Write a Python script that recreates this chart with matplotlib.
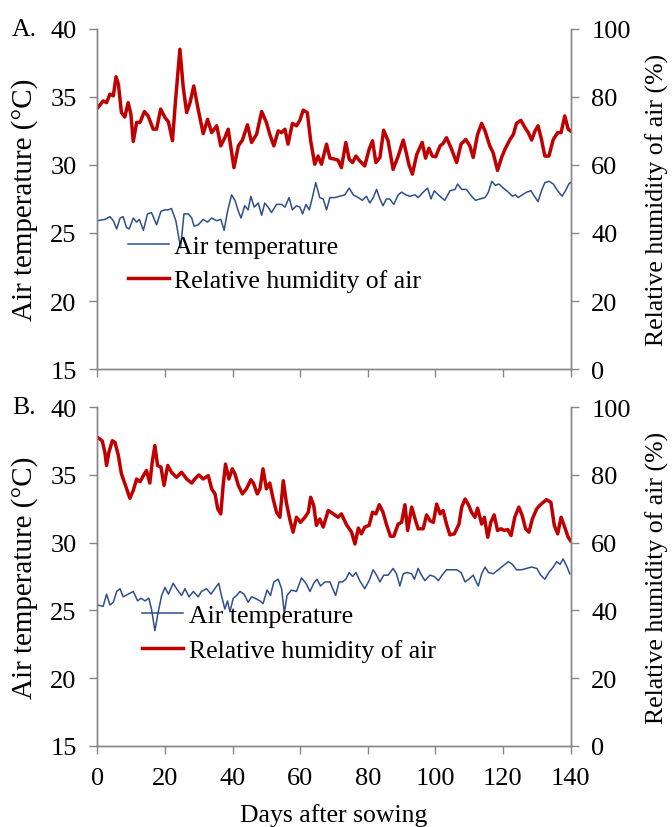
import numpy as np
import matplotlib
matplotlib.use("Agg")
import matplotlib.pyplot as plt

plt.rcParams['font.family'] = ['Liberation Serif', 'DejaVu Serif']
plt.rcParams['font.size'] = 18.5

# ---- panel A data ----
a_temp_day = [0, 2.2, 3.7, 4.7, 5.7, 6.7, 7.6, 8.6, 9.4, 10.6, 11.6, 12.4, 13.6, 14.8, 16, 17.5, 18.8, 20, 21, 21.9,
              23.2, 24.6, 25.6, 26.9, 27.9, 28.6, 29.8, 31.3, 32.6, 33.8, 35.3, 36.5, 37.5, 38.5, 39.7, 40.7, 41.7,
              42.5, 43.6, 44.6, 45.4, 46.4, 47.6, 48.6, 49.5, 50.5, 51.5, 53, 54.5, 55.5, 56.7, 57.7, 58.9, 59.9,
              60.7, 61.7, 62.7, 63.6, 64.6, 65.8, 66.8, 67.8, 68.8, 70.2, 71.7, 73.2, 74.5, 75.7, 77.2, 78.4, 79.6,
              80.6, 81.6, 82.6, 83.6, 84.5, 85.5, 86.5, 87.7, 89, 90, 91.3, 92.4, 94, 94.9, 96.4, 97.7, 98.7, 99.7,
              100.9, 101.8, 102.8, 104.3, 105.8, 106.6, 107.8, 109.2, 110.7, 111.9, 113.2, 114.7, 115.7, 116.7,
              117.8, 118.8, 120.1, 121.6, 122.8, 123.7, 124.5, 125.7, 127, 128.3, 129.3, 130.4, 131.4, 132.4, 133.6,
              134.9, 136.2, 137.5, 138.5, 139.5, 140]
a_temp = [25.9, 26.0, 26.2, 25.9, 25.3, 26.1, 26.2, 25.4, 25.3, 26.1, 25.8, 26.0, 25.2, 26.4, 26.5, 25.6, 26.6, 26.7,
          26.7, 26.8, 25.9, 23.9, 26.4, 26.4, 26.1, 25.5, 25.6, 26.0, 25.8, 26.1, 25.9, 26.0, 25.2, 26.6, 27.8, 27.4,
          26.6, 26.1, 27.0, 26.7, 27.7, 26.9, 27.2, 26.3, 27.2, 26.9, 26.5, 27.1, 27.1, 26.9, 27.6, 26.7, 27.0, 26.9,
          26.4, 27.1, 26.7, 27.6, 28.7, 27.6, 27.5, 26.7, 27.6, 27.6, 27.7, 27.8, 28.3, 27.8, 27.6, 27.4, 27.7, 27.2,
          27.6, 28.2, 27.5, 27.0, 27.5, 27.5, 27.1, 27.8, 28.0, 27.8, 27.7, 27.8, 27.6, 28.0, 28.3, 27.5, 28.1, 27.8,
          27.6, 27.4, 28.1, 28.2, 28.6, 28.2, 28.2, 27.7, 27.4, 27.5, 27.6, 28.0, 28.8, 28.5, 28.6, 28.3, 28.0, 27.7,
          27.8, 27.6, 27.8, 28.0, 28.1, 27.7, 27.3, 28.1, 28.7, 28.8, 28.6, 28.1, 27.7, 28.1, 28.6, 28.7]

a_rh_day = [0, 1.7, 2.7, 3.7, 4.7, 5.5, 6.2, 7.1, 8.1, 9.1, 9.9, 10.6, 11.6, 12.6, 13.9, 15, 16.5, 17.5, 18.7, 20,
            21, 22.2, 23.1, 24.4, 25.4, 26.4, 27.4, 28.5, 29.8, 31.3, 32.6, 33.8, 35.3, 36.5, 37.7, 38.7, 39.5,
            40.4, 41.7, 42.9, 44.4, 45.6, 47.1, 48.6, 50, 51, 52.2, 53.5, 54.5, 55.5, 56.4, 57.7, 58.9, 59.9, 60.9,
            62.1, 63.1, 64.3, 65.3, 66.3, 67.8, 68.8, 70.2, 71.2, 72.2, 73.5, 74.5, 75.5, 76.5, 77.6, 79.1, 80.4,
            81.4, 82.4, 83.6, 84.7, 86, 87.5, 89, 90.5, 91.5, 92.2, 93.2, 94.5, 96.1, 97.1, 98.1, 99.1, 100.1,
            101.4, 102.3, 103.3, 104.6, 106.3, 107.6, 109, 110.2, 111.2, 112.5, 113.7, 114.7, 116.1, 117.1, 118.4,
            119.6, 120.6, 122.1, 123.1, 124, 125.3, 126.5, 127.5, 128.5, 129.5, 130.4, 131.4, 132.4, 133.6, 134.9,
            136.2, 137.2, 138.3, 139.3, 140]
a_rh = [76.7, 78.8, 78.3, 80.8, 80.3, 85.9, 83.7, 75.4, 74.1, 78.3, 74.9, 66.9, 72.5, 72.5, 75.7, 74.4, 70.5, 70.5,
        76.4, 73.9, 72.7, 67.1, 78.8, 94.0, 82.7, 75.4, 78.3, 83.2, 76.4, 69.2, 73.4, 69.5, 71.5, 65.6, 68.0, 70.5,
        65.1, 59.2, 65.6, 67.3, 71.8, 66.6, 69.0, 75.7, 72.5, 69.0, 65.6, 70.0, 69.5, 70.5, 66.1, 72.2, 71.5, 73.1,
        76.1, 75.4, 67.1, 60.2, 62.6, 60.2, 66.1, 62.0, 61.7, 61.4, 59.2, 66.6, 61.7, 60.7, 62.6, 61.2, 59.7, 64.6,
        67.1, 60.7, 62.2, 70.2, 67.1, 58.7, 62.6, 67.3, 63.1, 60.0, 57.3, 63.1, 66.6, 62.0, 64.9, 62.6, 62.4, 65.6,
        66.3, 68.0, 65.1, 60.7, 66.1, 67.5, 65.6, 62.2, 69.0, 72.2, 70.0, 65.6, 63.6, 58.4, 62.2, 64.6, 67.5, 69.0,
        72.2, 73.1, 71.0, 69.5, 67.3, 70.0, 71.5, 67.5, 62.6, 62.6, 67.5, 69.5, 69.5, 74.4, 70.5, 70.0]

# ---- panel B data ----
b_temp_day = [0, 1.7, 2.7, 3.7, 4.7, 5.7, 6.7, 7.6, 9.1, 10.6, 11.9, 12.9, 14.1, 15.2, 16, 17, 18, 19, 20, 21, 22.4,
              23.7, 24.9, 25.9, 27.1, 28.4, 29.8, 30.8, 32.3, 33.6, 35, 35.9, 36.7, 37.7, 38.5, 39.2, 40.2, 41.2,
              42.2, 43.4, 44.6, 45.6, 46.6, 48.1, 49, 50.2, 51.2, 52.2, 53.5, 54.5, 55.3, 56.1, 57.4, 58.9, 60.4,
              61.7, 62.9, 64, 65, 66, 67.3, 68.8, 69.8, 70.5, 71.5, 72.5, 73.5, 74.5, 75.5, 76.5, 77.6, 79.1, 80.4,
              81.6, 82.6, 83.6, 84.7, 86, 87.5, 88.5, 89.5, 90.5, 91.6, 93, 93.8, 94.9, 95.9, 96.9, 98.4, 99.7,
              100.9, 102, 103.3, 104.8, 106.3, 107.6, 108.8, 109.9, 111.2, 111.9, 112.7, 113.7, 114.7, 115.7, 117.1,
              118.6, 120.1, 121.6, 122.8, 124, 125.5, 127, 128.5, 130, 131.2, 132.4, 133.6, 134.9, 135.9, 136.9,
              137.8, 138.8, 139.8]
b_temp = [25.4, 25.3, 26.2, 25.4, 25.6, 26.4, 26.6, 26.0, 26.2, 26.4, 25.7, 25.9, 25.7, 25.9, 25.1, 23.5, 24.9, 26.1,
          26.7, 26.2, 27.0, 26.5, 26.1, 26.6, 26.0, 26.4, 26.0, 26.4, 26.6, 26.2, 26.7, 27.0, 26.1, 25.1, 25.7, 24.9,
          25.9, 26.1, 26.4, 26.2, 25.6, 26.0, 25.9, 25.7, 25.5, 26.5, 26.1, 27.1, 27.3, 26.6, 24.8, 26.1, 26.5, 26.4,
          27.4, 27.0, 26.4, 27.0, 27.3, 26.8, 27.1, 27.1, 26.5, 26.1, 27.1, 27.1, 27.3, 27.8, 27.5, 27.8, 27.2, 26.6,
          27.2, 28.0, 27.6, 27.1, 27.6, 27.6, 28.1, 27.7, 26.8, 27.7, 27.8, 27.7, 27.3, 28.1, 27.6, 27.2, 27.6, 27.5,
          27.2, 27.6, 28.0, 28.0, 28.0, 27.8, 27.1, 27.3, 27.6, 27.2, 26.8, 27.7, 28.2, 27.8, 27.7, 28.0, 28.3, 28.6,
          28.4, 28.0, 28.0, 28.1, 28.2, 28.1, 27.6, 27.3, 27.8, 28.2, 28.6, 28.4, 28.8, 28.3, 27.7]

b_rh_day = [0, 1.4, 2.2, 2.7, 3.4, 4.4, 5.2, 6.2, 7.1, 8.3, 9.6, 10.6, 11.6, 12.6, 13.6, 14.5, 15.5, 16.2, 17, 17.8,
            18.8, 19.7, 20.8, 21.9, 23.4, 24.9, 26.4, 27.9, 28.8, 30, 31.3, 32.8, 33.8, 34.8, 35.6, 36.5, 37.2, 37.9,
            38.9, 39.9, 40.7, 41.7, 42.9, 44.1, 45.4, 46.2, 47.3, 48.1, 49, 50, 51, 52, 53, 54, 55, 55.9, 56.9,
            57.9, 58.9, 60.1, 61.4, 62.4, 63.1, 64, 64.8, 65.8, 66.8, 68.3, 69.8, 71.2, 72.2, 73.7, 75.2, 76.2,
            77.2, 78.1, 79.1, 80.4, 81.4, 82.4, 83.4, 84.5, 85.5, 86.7, 87.7, 89, 90, 91, 91.8, 93, 94, 94.9, 96.4,
            97.4, 98.4, 99.4, 100.4, 101.4, 102.3, 103.3, 104.3, 105.6, 107, 107.8, 108.8, 109.7, 110.7, 111.7,
            112.5, 113.7, 114.5, 115.5, 116.4, 117.4, 118.4, 119.4, 120.4, 121.4, 122.4, 123.5, 124.7, 125.7,
            126.7, 127.7, 128.7, 130, 130.9, 131.9, 132.9, 134.2, 135.2, 136.2, 137.2, 138.1, 139.3, 140]
b_rh = [91.1, 90.1, 86.7, 82.8, 86.7, 90.1, 89.6, 85.7, 80.3, 76.9, 73.1, 75.4, 78.8, 78.0, 79.8, 81.3, 77.6, 83.7,
        88.7, 82.8, 82.3, 76.9, 82.8, 80.8, 79.3, 80.8, 78.8, 77.6, 78.8, 80.0, 78.8, 79.8, 75.9, 74.4, 70.0, 68.5,
        76.9, 83.2, 78.8, 81.8, 80.3, 76.9, 74.4, 75.9, 78.6, 77.5, 74.4, 75.9, 81.8, 75.9, 77.6, 72.9, 69.0, 67.5,
        78.3, 71.9, 67.0, 63.1, 67.5, 66.0, 67.5, 69.0, 73.4, 71.0, 65.1, 67.0, 64.6, 69.5, 68.5, 67.5, 68.5, 65.3,
        63.1, 59.6, 64.3, 62.6, 64.6, 65.1, 69.0, 68.5, 71.2, 69.0, 65.5, 61.9, 61.9, 65.5, 66.0, 71.2, 63.6, 70.5,
        67.0, 64.1, 64.1, 68.2, 66.5, 66.0, 71.4, 68.5, 69.5, 65.5, 62.3, 62.6, 65.5, 70.5, 72.9, 71.4, 69.0, 67.5,
        70.2, 65.5, 67.5, 61.6, 66.0, 68.2, 63.6, 64.1, 63.6, 63.9, 62.1, 67.5, 70.5, 68.0, 64.1, 63.1, 67.0, 70.0,
        71.0, 71.9, 72.7, 71.9, 65.1, 62.6, 67.5, 65.1, 61.6, 60.6]

temp_ticks = [15, 20, 25, 30, 35, 40]
rh_ticks = [0, 20, 40, 60, 80, 100]
day_ticks = [0, 20, 40, 60, 80, 100, 120, 140]

blue = '#2F4E8C'
red = '#C00000'
grey = '#868686'

fig = plt.figure(figsize=(6.72, 8.28), dpi=100)


def panel(rect, t_day, t_val, h_day, h_val, letter, leg_anchor, show_x):
    ax = fig.add_axes(rect)
    ax2 = ax.twinx()
    l1, = ax.plot(t_day, t_val, color=blue, lw=1.1, label='Air temperature')
    l2, = ax2.plot(h_day, h_val, color=red, lw=2.5, label='Relative humidity of air',
                   solid_joinstyle='round')
    ax.set_xlim(0, 140)
    ax.set_ylim(15, 40)
    ax2.set_ylim(0, 100)
    ax.set_xticks(day_ticks)
    ax.set_yticks(temp_ticks)
    ax2.set_yticks(rh_ticks)
    for a in (ax, ax2):
        a.spines['top'].set_visible(False)
        for s in ('left', 'right', 'bottom'):
            a.spines[s].set_color(grey)
            a.spines[s].set_linewidth(1.0)
        a.tick_params(direction='out', length=6, width=1.0, color=grey, pad=9, labelsize=19)
    if not show_x:
        ax.tick_params(axis='x', labelbottom=False)
    else:
        ax.set_xlabel('Days after sowing', labelpad=10)
    ax.set_ylabel('Air temperature (°C)', fontsize=21)
    ax2.set_ylabel('Relative humidity of air (%)')
    ax.yaxis.set_label_coords(-0.125, 0.5)
    ax2.yaxis.set_label_coords(1.158, 0.5)
    ax2.legend([l1, l2], [l1.get_label(), l2.get_label()], loc='upper left',
               bbox_to_anchor=leg_anchor, frameon=False, borderpad=0, borderaxespad=0,
               handlelength=1.6, handletextpad=0.2, labelspacing=0.45)
    fig.text(0.018, rect[1] + rect[3], letter, ha='left', va='center')
    return ax


panel([0.145, 0.553, 0.704, 0.411], a_temp_day, a_temp, a_rh_day, a_rh, 'A.', (0.065, 0.395), False)
panel([0.145, 0.098, 0.704, 0.409], b_temp_day, b_temp, b_rh_day, b_rh, 'B.', (0.095, 0.418), True)

fig.savefig('out.png', dpi=100)
